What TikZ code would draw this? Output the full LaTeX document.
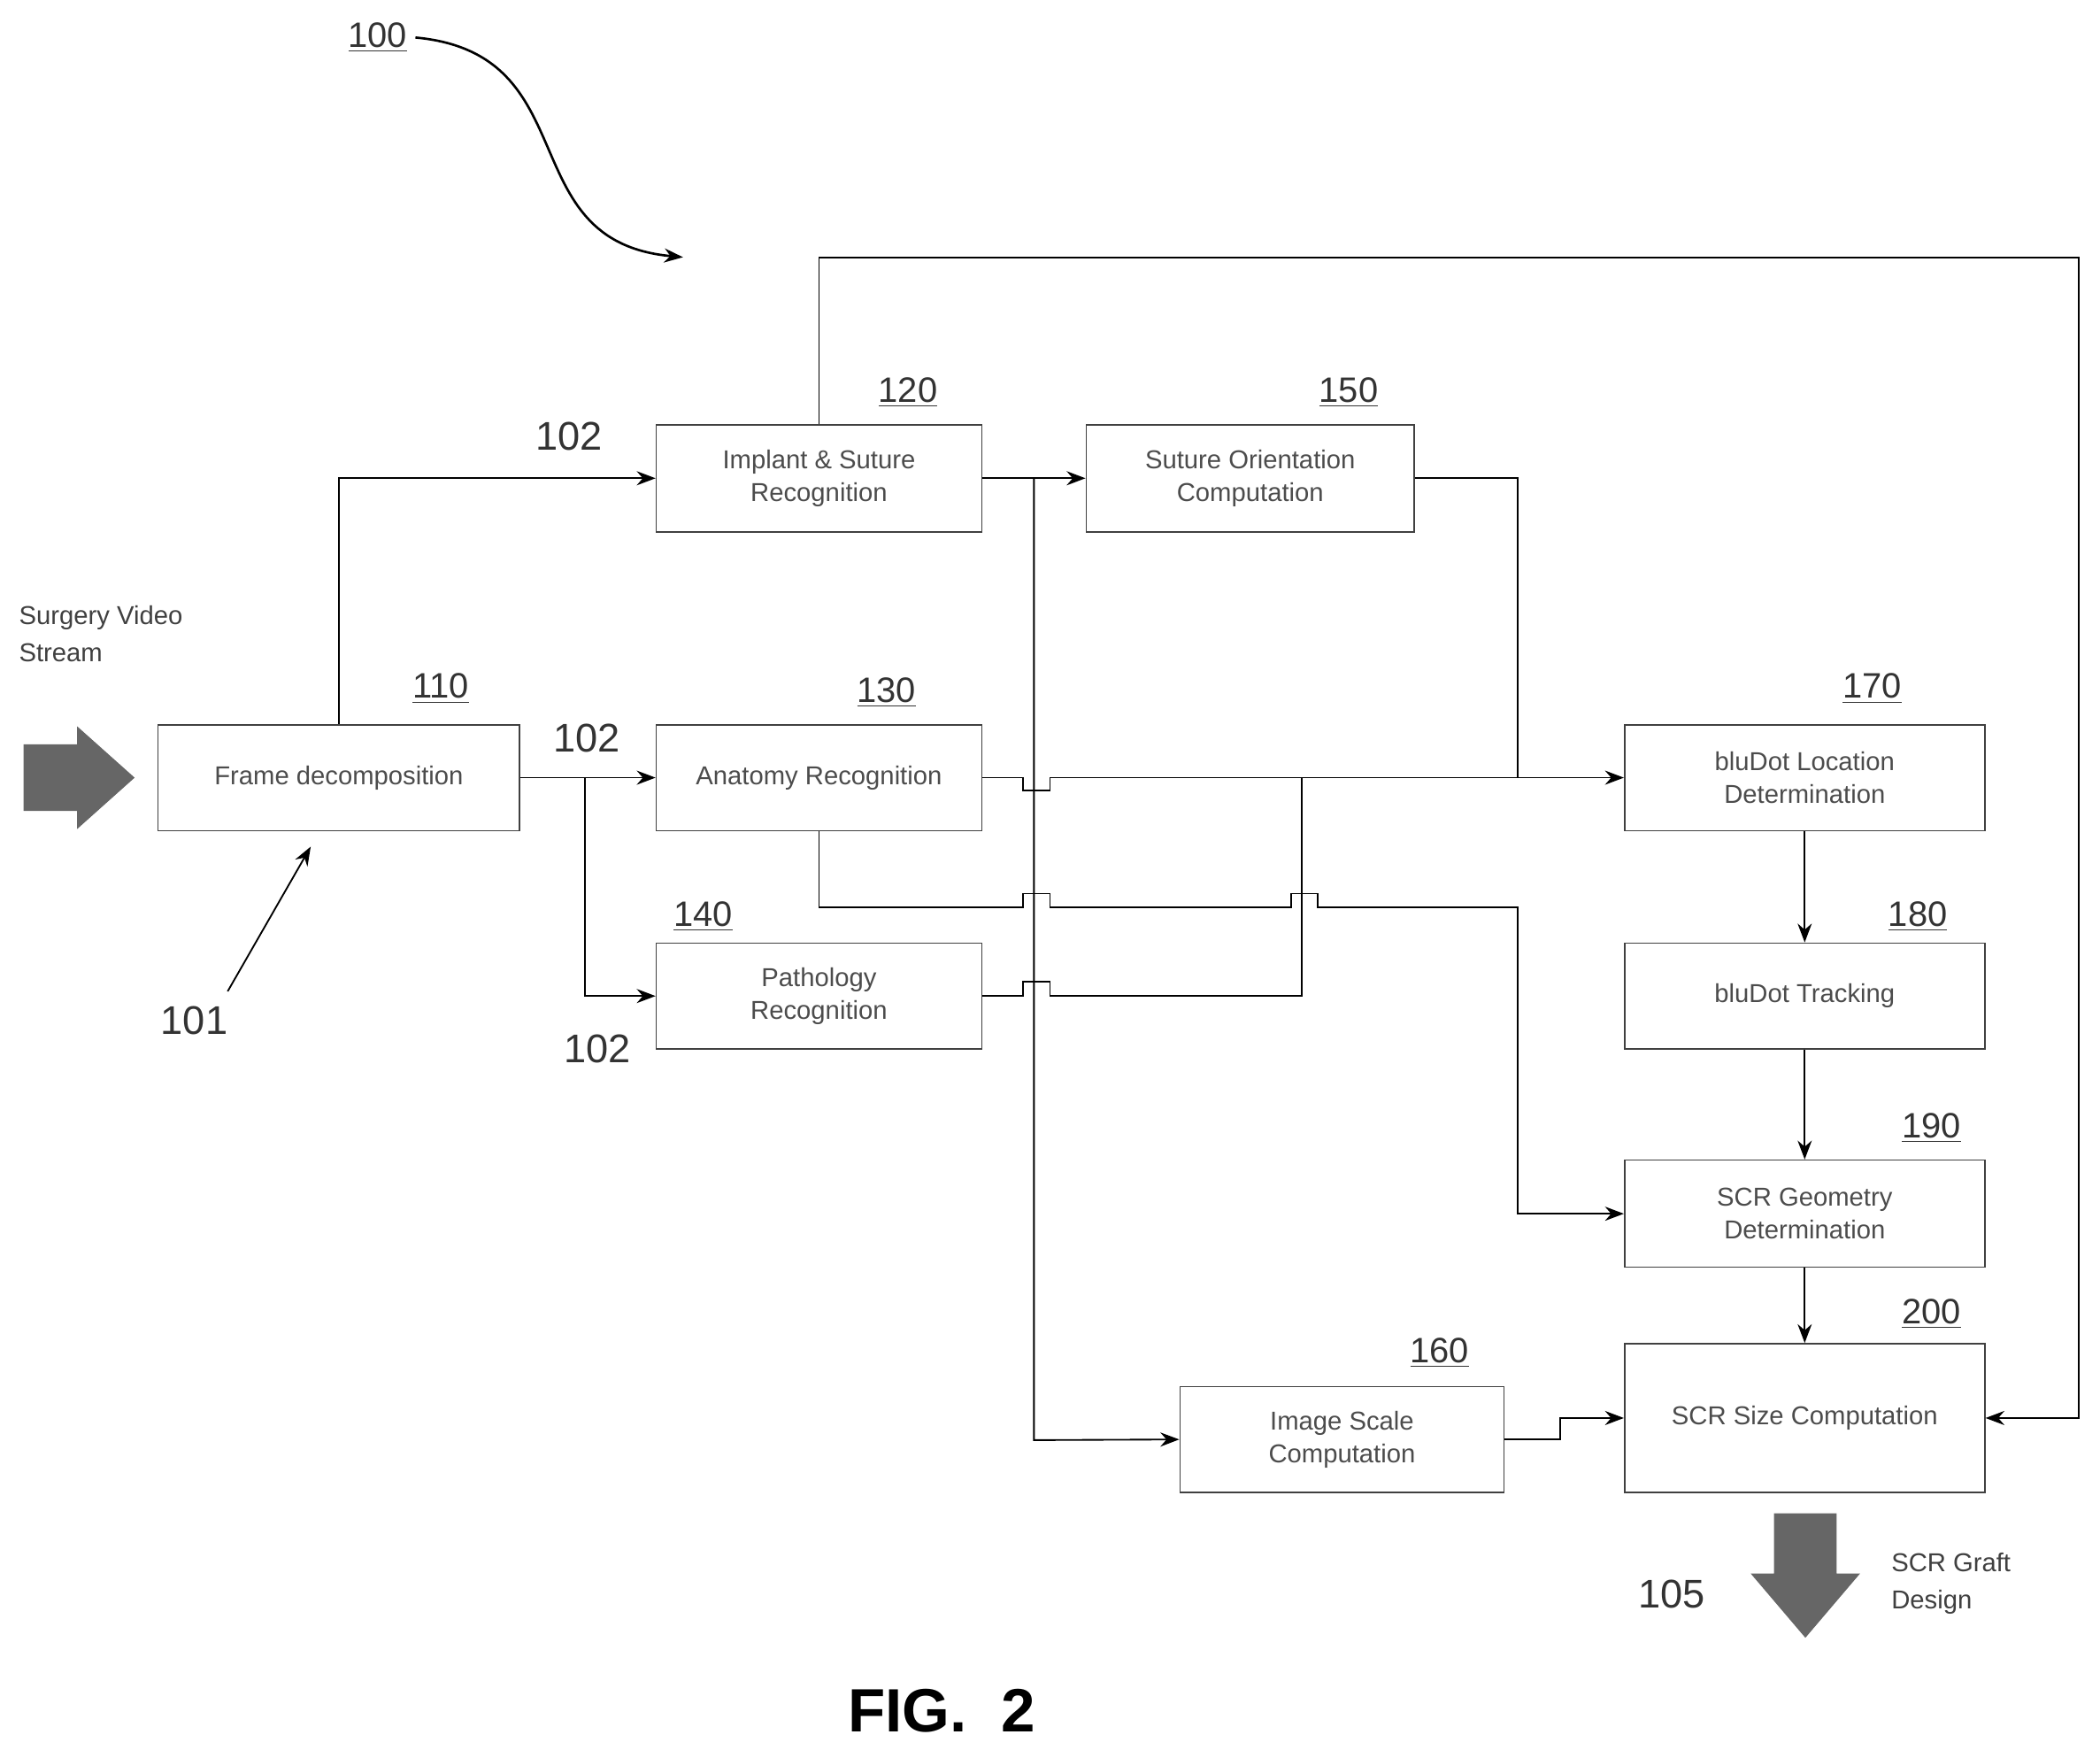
\documentclass[tikz,border=0pt]{standalone}
\usepackage{fontspec}
\setmainfont{Liberation Sans}
\usetikzlibrary{arrows.meta}
\begin{document}
\begin{tikzpicture}[x=0.02cm,y=-0.02cm,
 box/.style={draw=black!75,line width=0.6pt,align=center,font=\fontsize{11}{14}\selectfont,text=black!70,inner sep=0pt},
 ln/.style={line width=0.7pt,black},
 ar/.style={ln,-{Stealth[length=8pt,width=6pt]}},
 ul/.style={font=\fontsize{15}{17}\selectfont,text=black!80},
 big/.style={font=\fontsize{17}{19}\selectfont,text=black!80},
 fat/.style={fill=black!60,draw=black!60}]
\useasboundingbox (0,0) rectangle (1568,1306);
% boxes
\node[box,minimum width=270*0.02cm,minimum height=79*0.02cm] (b110) at (253,580.5) {Frame decomposition};
\node[box,minimum width=243*0.02cm,minimum height=80*0.02cm] (b120) at (611.5,357) {Implant \& Suture\\Recognition};
\node[box,minimum width=245*0.02cm,minimum height=80*0.02cm] (b150) at (933.5,357) {Suture Orientation\\Computation};
\node[box,minimum width=243*0.02cm,minimum height=79*0.02cm] (b130) at (611.5,580.5) {Anatomy Recognition};
\node[box,minimum width=243*0.02cm,minimum height=79*0.02cm] (b140) at (611.5,743.5) {Pathology\\Recognition};
\node[box,minimum width=269*0.02cm,minimum height=79*0.02cm] (b170) at (1347.5,580.5) {bluDot Location\\Determination};
\node[box,minimum width=269*0.02cm,minimum height=79*0.02cm] (b180) at (1347.5,743.5) {bluDot Tracking};
\node[box,minimum width=269*0.02cm,minimum height=80*0.02cm] (b190) at (1347.5,906) {SCR Geometry\\Determination};
\node[box,minimum width=269*0.02cm,minimum height=111*0.02cm] (b200) at (1347.5,1058.5) {SCR Size Computation};
\node[box,minimum width=242*0.02cm,minimum height=79*0.02cm] (b160) at (1002,1074.5) {Image Scale\\Computation};
% connectors
\draw[ar] (b110.north) |- (b120.west);
\draw[ar] (b110.east) -- (b130.west);
\coordinate (s1) at (437,580.5);
\draw[ar] (s1) |- (b140.west);
\draw[ar] (b120.north) -- (611.5,192) -- (1552,192) |- (b200.east);
\draw[ar] (b120.east) -- (b150.west);
\draw[ar] (772,357) -- (772,1075) -- (b160.west);
\draw[ar] (b130.east) -- (764,580.5) -- (764,590) -- (784,590) -- (784,580.5) -- (b170.west);
\draw[ln] (b150.east) -| (1133,580.5);
\draw[ar] (b130.south) -- (611.5,677) -- (764,677) -- (764,667) -- (784,667) -- (784,677)
  -- (964,677) -- (964,667) -- (984,667) -- (984,677) -- (1133,677) |- (b190.west);
\draw[ln] (b140.east) -- (764,743.5) -- (764,733) -- (784,733) -- (784,743.5) -- (972,743.5) -- (972,580.5);
\draw[ar] (b170) -- (b180);
\draw[ar] (b180) -- (b190);
\draw[ar] (b190) -- (b200);
\draw[ar] (b160.east) -- (1165,1074.5) -- (1165,1058.5) -- (b200.west);
% big arrows
\draw[fat] (18,556) -- (58,556) -- (58,543) -- (100,580.5) -- (58,618) -- (58,605) -- (18,605) -- cycle;
\draw[fat] (1325,1130) -- (1371,1130) -- (1371,1175) -- (1388,1175) -- (1348,1222) -- (1308,1175) -- (1325,1175) -- cycle;
% ref numbers
\node[ul] (n100) at (282,28) {\underline{100}};
\coordinate (c100) at (510,192);
\draw[ar,line width=1pt] (n100.east) .. controls (440,40) and (380,180) .. (c100);
\node[ul] at (678,293) {\underline{120}};
\node[ul] at (1007,293) {\underline{150}};
\node[ul] at (329,514) {\underline{110}};
\node[ul] at (662,517) {\underline{130}};
\node[ul] at (525,684) {\underline{140}};
\node[ul] at (1398,514) {\underline{170}};
\node[ul] at (1432,684) {\underline{180}};
\node[ul] at (1442,842) {\underline{190}};
\node[ul] at (1442,981) {\underline{200}};
\node[ul] at (1075,1010) {\underline{160}};
\node[big] at (425,326) {102};
\node[big] at (438,551) {102};
\node[big] at (446,783) {102};
\node[big] (n101) at (145,762) {101};
\coordinate (c101) at (232,632);
\draw[ar] (170,740) -- (c101);
\node[big] at (1248,1190) {105};
\node[anchor=west,align=left,font=\fontsize{11}{16}\selectfont,text=black!75] at (8,473) {Surgery Video\\Stream};
\node[anchor=west,align=left,font=\fontsize{11}{16}\selectfont,text=black!75] at (1406,1182) {SCR Graft\\Design};
\node[font=\fontsize{26}{28}\bfseries\selectfont] at (703,1277) {FIG.\ \ 2};
\end{tikzpicture}
\end{document}
